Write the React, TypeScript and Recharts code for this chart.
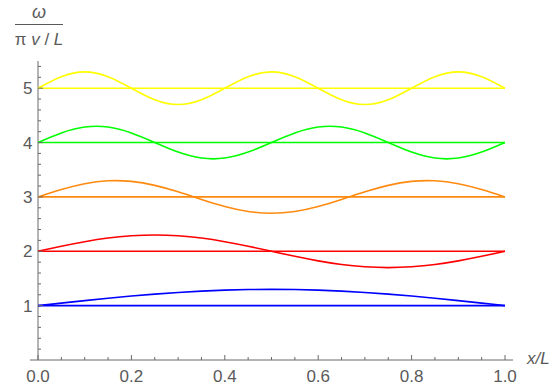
import React from "react";
import { LineChart, Line, XAxis, YAxis, ReferenceLine } from "recharts";

// x/L sample positions
const xs = [
  0, 0.05, 0.1, 0.15, 0.2, 0.25, 0.3, 0.35, 0.4, 0.45, 0.5, 0.55, 0.6, 0.65,
  0.7, 0.75, 0.8, 0.85, 0.9, 0.95, 1,
];

// ω / (π v / L) for the perturbed curves
const mode1 = [
  1.0, 1.047, 1.093, 1.136, 1.176, 1.212, 1.243, 1.267, 1.285, 1.296, 1.3,
  1.296, 1.285, 1.267, 1.243, 1.212, 1.176, 1.136, 1.093, 1.047, 1.0,
];
const mode2 = [
  2.0, 2.093, 2.176, 2.243, 2.285, 2.3, 2.285, 2.243, 2.176, 2.093, 2.0,
  1.907, 1.824, 1.757, 1.715, 1.7, 1.715, 1.757, 1.824, 1.907, 2.0,
];
const mode3 = [
  3.0, 3.136, 3.243, 3.296, 3.285, 3.212, 3.093, 2.953, 2.824, 2.733, 2.7,
  2.733, 2.824, 2.953, 3.093, 3.212, 3.285, 3.296, 3.243, 3.136, 3.0,
];
const mode4 = [
  4.0, 4.176, 4.285, 4.285, 4.176, 4.0, 3.824, 3.715, 3.715, 3.824, 4.0,
  4.176, 4.285, 4.285, 4.176, 4.0, 3.824, 3.715, 3.715, 3.824, 4.0,
];
const mode5 = [
  5.0, 5.212, 5.3, 5.212, 5.0, 4.788, 4.7, 4.788, 5.0, 5.212, 5.3, 5.212, 5.0,
  4.788, 4.7, 4.788, 5.0, 5.212, 5.3, 5.212, 5.0,
];

// unperturbed levels (flat lines)
const levels = [1, 2, 3, 4, 5];
const colors = ["#0000ff", "#ff0000", "#ff8a10", "#00ff00", "#ffff00"];

const xTicks = [
  0, 0.05, 0.1, 0.15, 0.2, 0.25, 0.3, 0.35, 0.4, 0.45, 0.5, 0.55, 0.6, 0.65,
  0.7, 0.75, 0.8, 0.85, 0.9, 0.95, 1,
];
const yTicks = [
  0.2, 0.4, 0.6, 0.8, 1, 1.2, 1.4, 1.6, 1.8, 2, 2.2, 2.4, 2.6, 2.8, 3, 3.2,
  3.4, 3.6, 3.8, 4, 4.2, 4.4, 4.6, 4.8, 5, 5.2, 5.4,
];

const modes = [mode1, mode2, mode3, mode4, mode5];

const data = xs.map((x, i) => {
  const row: Record<string, number> = { x };
  modes.forEach((m, k) => {
    row["m" + (k + 1)] = m[i];
    row["f" + (k + 1)] = levels[k];
  });
  return row;
});

const AXIS = "#6a6a6a";
const LABEL = "#5a5a5a";
const FONT = "'Liberation Sans', Arial, sans-serif";
const PLOT_BOTTOM = 360;
const Y_AXIS_X = 38;

const XTick = (props: any) => {
  const { x, payload } = props;
  const v = payload.value as number;
  const major = Math.abs(v * 5 - Math.round(v * 5)) < 1e-6;
  return (
    <g>
      <line
        x1={x}
        x2={x}
        y1={PLOT_BOTTOM}
        y2={PLOT_BOTTOM - (major ? 5 : 3)}
        stroke={AXIS}
        strokeWidth={1}
      />
      {major && (
        <text
          x={x}
          y={382}
          textAnchor="middle"
          fill={LABEL}
          fontSize={17}
          fontFamily={FONT}
        >
          {v.toFixed(1)}
        </text>
      )}
    </g>
  );
};

const YTick = (props: any) => {
  const { y, payload } = props;
  const v = payload.value as number;
  const major = Math.abs(v - Math.round(v)) < 1e-6;
  return (
    <g>
      <line
        x1={Y_AXIS_X}
        x2={Y_AXIS_X + (major ? 5 : 3)}
        y1={y}
        y2={y}
        stroke={AXIS}
        strokeWidth={1}
      />
      {major && (
        <text
          x={32.5}
          y={y + 6}
          textAnchor="end"
          fill={LABEL}
          fontSize={17}
          fontFamily={FONT}
        >
          {v}
        </text>
      )}
    </g>
  );
};

export default function App() {
  return (
    <div
      style={{
        position: "absolute",
        left: 0,
        top: 0,
        width: 552,
        height: 388,
        background: "#fff",
      }}
    >
      <LineChart
        width={552}
        height={388}
        data={data}
        margin={{ top: 61, right: 39, bottom: 0, left: 0 }}
      >
        <XAxis
          dataKey="x"
          type="number"
          domain={[0, 1]}
          ticks={xTicks}
          interval={0}
          padding={{ left: 8, right: 8 }}
          height={28}
          axisLine={{ stroke: AXIS }}
          tickLine={false}
          tick={<XTick />}
        />
        <YAxis
          type="number"
          domain={[0, 5.5]}
          ticks={yTicks}
          interval={0}
          width={30}
          axisLine={false}
          tickLine={false}
          tick={<YTick />}
        />
        <ReferenceLine x={0} stroke={AXIS} strokeWidth={1} />
        {levels.map((n, k) => (
          <Line
            key={"f" + n}
            dataKey={"f" + n}
            stroke={colors[k]}
            strokeWidth={1.6}
            dot={false}
            type="linear"
            isAnimationActive={false}
          />
        ))}
        {levels.map((n, k) => (
          <Line
            key={"m" + n}
            dataKey={"m" + n}
            stroke={colors[k]}
            strokeWidth={1.6}
            dot={false}
            type="natural"
            isAnimationActive={false}
          />
        ))}
      </LineChart>
      <div
        style={{
          position: "absolute",
          left: 15,
          top: 3,
          width: 48,
          textAlign: "center",
          fontFamily: FONT,
          fontSize: 18,
          fontStyle: "italic",
          color: LABEL,
          lineHeight: "18px",
        }}
      >
        ω
      </div>
      <div
        style={{
          position: "absolute",
          left: 15,
          top: 24,
          width: 48,
          height: 1,
          background: LABEL,
        }}
      />
      <div
        style={{
          position: "absolute",
          left: 13,
          top: 31,
          width: 52,
          textAlign: "center",
          fontFamily: FONT,
          fontSize: 17,
          color: LABEL,
          lineHeight: "18px",
          whiteSpace: "nowrap",
        }}
      >
        π <i>v</i> / <i>L</i>
      </div>
      <div
        style={{
          position: "absolute",
          left: 527,
          top: 350,
          fontFamily: FONT,
          fontSize: 17,
          fontStyle: "italic",
          color: LABEL,
          lineHeight: "18px",
          whiteSpace: "nowrap",
        }}
      >
        x/L
      </div>
    </div>
  );
}
